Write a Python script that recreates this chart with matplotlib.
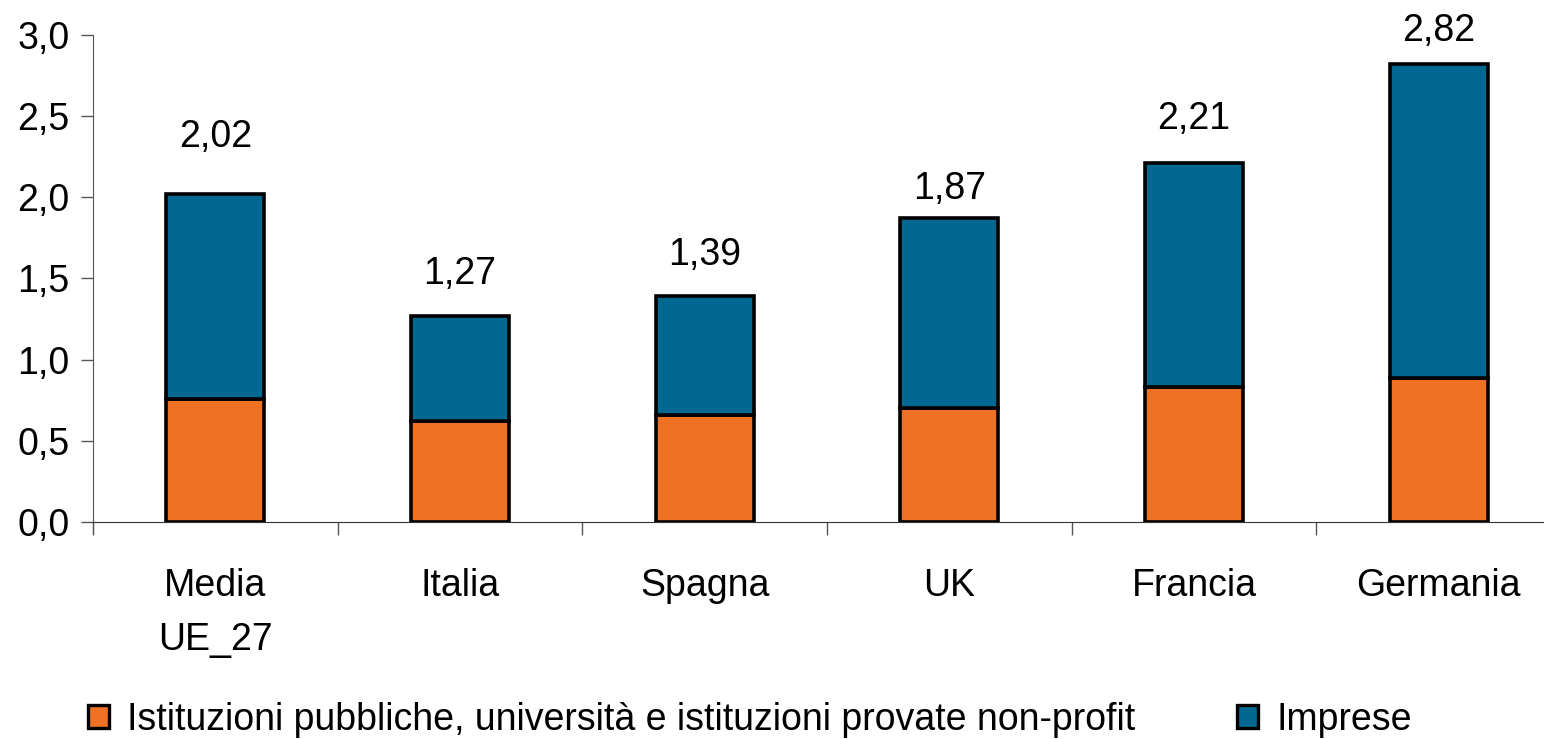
import matplotlib.pyplot as plt
import numpy as np
from matplotlib.patches import Patch

# data
categories = ['Media\nUE_27', 'Italia', 'Spagna', 'UK', 'Francia', 'Germania']
pubbliche = [0.76, 0.62, 0.66, 0.70, 0.83, 0.89]
totali = [2.02, 1.27, 1.39, 1.87, 2.21, 2.82]
imprese = [t - p for t, p in zip(totali, pubbliche)]
total_labels = ['2,02', '1,27', '1,39', '1,87', '2,21', '2,82']
yticks = [0.0, 0.5, 1.0, 1.5, 2.0, 2.5, 3.0]
ytick_labels = ['0,0', '0,5', '1,0', '1,5', '2,0', '2,5', '3,0']

# label gap above each bar (points), as in the original layout
label_gaps = [41, 30, 30, 21, 32, 24]

plt.rcParams['font.family'] = ['Liberation Sans', 'DejaVu Sans']

orange = '#EE7124'
blue = '#006891'

fig = plt.figure(figsize=(15.44, 7.39), dpi=100)
ax = fig.add_axes([0.0602, 0.2937, 0.9398, 0.6589])

x = np.arange(len(categories))
ax.bar(x, pubbliche, width=0.4, color=orange, edgecolor='black', linewidth=2.6)
ax.bar(x, imprese, width=0.4, bottom=pubbliche, color=blue, edgecolor='black', linewidth=2.6)

for xi, t, lab, g in zip(x, totali, total_labels, label_gaps):
    ax.annotate(lab, (xi, t), xytext=(0, g), textcoords='offset points',
                ha='center', va='center', fontsize=27, annotation_clip=False)

ax.set_ylim(0, 3.0)
ax.set_xlim(-0.5, 5.43)
ax.set_yticks(yticks)
ax.set_yticklabels(ytick_labels, fontsize=27)
ax.set_xticks(x)
ax.set_xticklabels(categories, fontsize=27, linespacing=1.65)
ax.set_xticks(np.arange(len(categories)) - 0.5, minor=True)
ax.tick_params(axis='x', which='major', length=0, pad=33)
ax.tick_params(axis='x', which='minor', length=9, width=1, color='#555555')
ax.tick_params(axis='y', length=9, width=1, color='#555555', pad=8)

for s in ['top', 'right']:
    ax.spines[s].set_visible(False)
ax.spines['left'].set_color('#555555')
ax.spines['bottom'].set_color('#333333')
ax.spines['left'].set_bounds(-0.07, 3.0)
ax.spines['left'].set_clip_on(False)

handles = [Patch(facecolor=orange, edgecolor='black', linewidth=2.4),
           Patch(facecolor=blue, edgecolor='black', linewidth=2.4)]
fig.legend(handles, ['Istituzioni pubbliche, università e istituzioni provate non-profit', 'Imprese'],
           loc='center left', bbox_to_anchor=(0.057, 0.026), ncol=2, frameon=False,
           fontsize=27, handlelength=0.55, handleheight=0.6, handletextpad=0.5,
           columnspacing=2.7, borderpad=0, borderaxespad=0)

fig.savefig('out.png', dpi=100)
